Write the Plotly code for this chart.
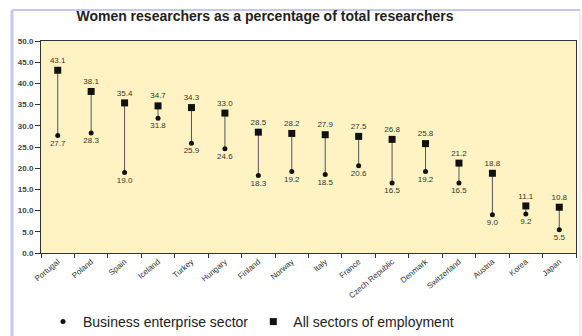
import plotly.graph_objects as go

countries = ["Portugal", "Poland", "Spain", "Iceland", "Turkey", "Hungary", "Finland", "Norway",
             "Italy", "France", "Czech Republic", "Denmark", "Switzerland", "Austria", "Korea", "Japan"]
all_sectors = [43.1, 38.1, 35.4, 34.7, 34.3, 33.0, 28.5, 28.2, 27.9, 27.5, 26.8, 25.8, 21.2, 18.8, 11.1, 10.8]
business = [27.7, 28.3, 19.0, 31.8, 25.9, 24.6, 18.3, 19.2, 18.5, 20.6, 16.5, 19.2, 16.5, 9.0, 9.2, 5.5]
y_ticks = [0, 5, 10, 15, 20, 25, 30, 35, 40, 45, 50]

lx, ly = [], []
for c, a, b in zip(countries, all_sectors, business):
    lx += [c, c, None]
    ly += [b, a, None]

label_font = dict(family="Liberation Sans, Arial", size=8, color="#333333")

W, H = 582, 336
L, R, T, B = 41, 6, 41, 83
PW, PH = W - L - R, H - T - B


def px_x(x):
    return (x - L) / PW


def px_y(y):
    return (H - B - y) / PH


fig = go.Figure()
fig.add_trace(go.Scatter(x=lx, y=ly, mode="lines", line=dict(color="#555555", width=1),
                         showlegend=False, hoverinfo="skip"))
fig.add_trace(go.Scatter(x=countries, y=business, mode="markers+text", name="Business enterprise sector",
                         marker=dict(symbol="circle", size=5, color="#111111"),
                         text=[f"{v:.1f}" for v in business], textposition="bottom center",
                         textfont=label_font))
fig.add_trace(go.Scatter(x=countries, y=all_sectors, mode="markers+text", name="All sectors of employment",
                         marker=dict(symbol="square", size=7, color="#111111"),
                         text=[f"{v:.1f}" for v in all_sectors], textposition="top center",
                         textfont=label_font))

fig.update_layout(
    width=W, height=H,
    margin=dict(l=L, r=R, t=T, b=B),
    paper_bgcolor="white", plot_bgcolor="#FFF3C4",
    title=dict(text="<b>Women researchers as a percentage of total researchers</b>",
               x=265 / W, xanchor="center", y=1 - 16 / H, yanchor="middle",
               font=dict(family="Liberation Sans, Arial", size=14, color="#222222")),
    font=dict(family="Liberation Sans, Arial", color="#333333"),
    legend=dict(orientation="h", x=px_x(43), xanchor="left",
                yref="container", y=1 - 322 / H, yanchor="middle",
                font=dict(size=14, color="#222222"), itemwidth=30, bgcolor="rgba(0,0,0,0)"),
    showlegend=True,
)
fig.update_xaxes(type="category", showgrid=False, tickangle=-40, automargin=False,
                 tickfont=dict(size=8, color="#333333"),
                 showline=True, linecolor="#333333", linewidth=1, mirror=True,
                 ticks="outside", ticklen=4, tickcolor="#333333", tickson="boundaries",
                 range=[-0.5, len(countries) - 0.5])
fig.update_yaxes(range=[0, 50], tickvals=y_ticks, ticktext=[f"<b>{v:.1f}</b>" for v in y_ticks],
                 showgrid=False, zeroline=False, automargin=False,
                 tickfont=dict(size=8, color="#444444"),
                 showline=True, linecolor="#333333", linewidth=1, mirror=True,
                 ticks="outside", ticklen=5, tickcolor="#333333")

frame = dict(color="#C4C8EE", width=3)
fig.add_shape(type="line", xref="paper", yref="paper", x0=px_x(12), x1=px_x(12),
              y0=px_y(336), y1=px_y(10), line=frame, layer="above")
fig.add_shape(type="line", xref="paper", yref="paper", x0=px_x(12), x1=px_x(580),
              y0=px_y(10), y1=px_y(10), line=dict(color="#C4C8EE", width=2), layer="above")
fig.add_shape(type="line", xref="paper", yref="paper", x0=px_x(580), x1=px_x(580),
              y0=px_y(336), y1=px_y(10), line=dict(color="#D8DAF2", width=1), layer="above")

fig.write_html("out.html", config={"displayModeBar": False},
               post_script="document.body.style.margin='0';document.body.style.overflow='hidden';")
